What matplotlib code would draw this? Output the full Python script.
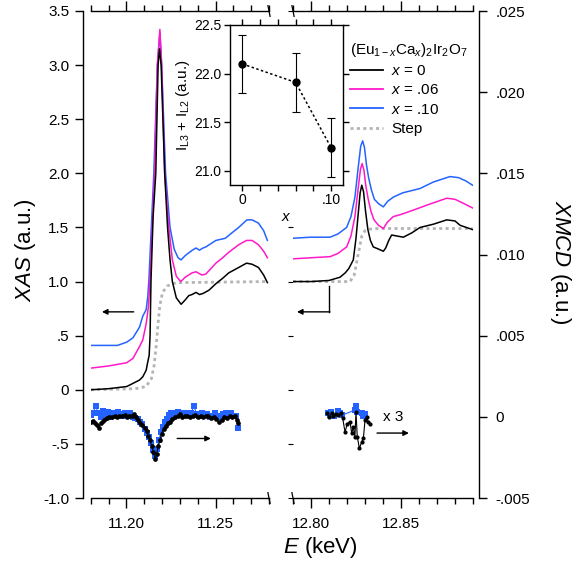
import numpy as np
import matplotlib.pyplot as plt
from matplotlib.ticker import MultipleLocator
from matplotlib.lines import Line2D

plt.rcParams['font.family'] = 'Liberation Sans'
plt.rcParams['mathtext.fontset'] = 'custom'
plt.rcParams['mathtext.rm'] = 'Liberation Sans'
plt.rcParams['mathtext.it'] = 'Liberation Sans:italic'
plt.rcParams['mathtext.bf'] = 'Liberation Sans:bold'
plt.rcParams['axes.linewidth'] = 1.0

# ---- XAS, Ir L3 edge (keV, a.u.) ----
e_l3_x0 = [11.180, 11.190, 11.2002, 11.2074, 11.2092, 11.2111, 11.2118, 11.2128, 11.2133,
           11.2138, 11.2150, 11.2165, 11.2178, 11.2186, 11.2195, 11.2205, 11.2215, 11.2231,
           11.2245, 11.2258, 11.2280, 11.2307, 11.2330, 11.2350, 11.2368, 11.2391, 11.2410,
           11.2430, 11.2463, 11.2502, 11.2540, 11.2574, 11.2630, 11.2674, 11.2705, 11.2741,
           11.2770, 11.2791]
xas_l3_x0 = [0.00, 0.01, 0.03, 0.09, 0.12, 0.18, 0.24, 0.32, 0.50, 1.00, 1.60, 2.00, 3.00,
             3.15, 3.00, 2.50, 2.00, 1.50, 1.20, 1.00, 0.85, 0.79, 0.83, 0.87, 0.88, 0.90,
             0.88, 0.89, 0.92, 0.98, 1.03, 1.08, 1.13, 1.17, 1.16, 1.13, 1.06, 0.99]
e_l3_x06 = [11.180, 11.190, 11.2002, 11.2037, 11.2074, 11.2092, 11.2111, 11.2124, 11.2132,
            11.2158, 11.2174, 11.2188, 11.2198, 11.2215, 11.2238, 11.2258, 11.2280, 11.2305,
            11.2330, 11.2368, 11.2391, 11.2424, 11.2446, 11.2480, 11.2502, 11.2540, 11.2574,
            11.2630, 11.2674, 11.2705, 11.2741, 11.2770, 11.2791]
xas_l3_x06 = [0.20, 0.22, 0.25, 0.29, 0.40, 0.46, 0.61, 0.77, 1.00, 2.00, 3.00, 3.33, 3.00,
              2.00, 1.50, 1.20, 1.05, 1.00, 1.04, 1.08, 1.09, 1.06, 1.07, 1.13, 1.17, 1.22,
              1.27, 1.34, 1.38, 1.38, 1.34, 1.28, 1.22]
e_l3_x10 = [11.180, 11.190, 11.195, 11.2002, 11.2037, 11.2074, 11.2092, 11.2111, 11.2120,
            11.2126, 11.2154, 11.2174, 11.2188, 11.2198, 11.2220, 11.2245, 11.2268, 11.2290,
            11.2307, 11.2330, 11.2370, 11.2391, 11.2410, 11.2430, 11.2446, 11.2502, 11.2555,
            11.2592, 11.2630, 11.2676, 11.2705, 11.2741, 11.2770, 11.2791]
xas_l3_x10 = [0.41, 0.41, 0.41, 0.44, 0.48, 0.58, 0.68, 0.74, 0.86, 1.00, 2.00, 3.00, 3.30,
              3.00, 2.00, 1.50, 1.30, 1.22, 1.20, 1.24, 1.29, 1.31, 1.29, 1.31, 1.32, 1.38,
              1.40, 1.45, 1.50, 1.57, 1.57, 1.54, 1.47, 1.38]
step_l3_e = [11.180, 11.205, 11.211, 11.214, 11.2155, 11.2167, 11.2177, 11.2188,
             11.2203, 11.223, 11.228, 11.279]
step_l3 = [0.0, 0.01, 0.03, 0.10, 0.22, 0.40, 0.60, 0.78, 0.90, 0.96, 0.99, 1.0]

# ---- XAS, Ir L2 edge ----
e_l2_x0 = [12.790, 12.800, 12.810, 12.8161, 12.819, 12.821, 12.8235, 12.8250, 12.8262,
           12.8273, 12.8282, 12.8292, 12.8303, 12.8316, 12.8330, 12.8346, 12.8375, 12.8402,
           12.8415, 12.8432, 12.8448, 12.8480, 12.8513, 12.8560, 12.8606, 12.8680, 12.8754,
           12.8800, 12.8828, 12.8898]
xas_l2_x0 = [1.00, 1.00, 1.01, 1.04, 1.08, 1.12, 1.20, 1.40, 1.62, 1.82, 1.89, 1.83, 1.65,
             1.48, 1.38, 1.32, 1.30, 1.28, 1.31, 1.38, 1.43, 1.42, 1.41, 1.45, 1.50, 1.53,
             1.57, 1.56, 1.52, 1.48]
e_l2_x06 = [12.790, 12.800, 12.8106, 12.815, 12.8198, 12.8222, 12.8244, 12.8262, 12.8275,
            12.8284, 12.8294, 12.8305, 12.8318, 12.8333, 12.8350, 12.8375, 12.8402, 12.8425,
            12.8457, 12.8500, 12.8568, 12.8650, 12.8754, 12.8800, 12.8850, 12.8898]
xas_l2_x06 = [1.21, 1.22, 1.23, 1.26, 1.32, 1.42, 1.60, 1.86, 2.04, 2.09, 2.03, 1.88, 1.76,
              1.65, 1.57, 1.52, 1.49, 1.55, 1.60, 1.62, 1.66, 1.71, 1.77, 1.76, 1.72, 1.68]
e_l2_x10 = [12.790, 12.800, 12.8106, 12.815, 12.8198, 12.8222, 12.8244, 12.8262, 12.8276,
            12.8287, 12.8297, 12.8308, 12.8320, 12.8335, 12.8352, 12.8375, 12.8402, 12.8425,
            12.8457, 12.8510, 12.8606, 12.8680, 12.8772, 12.8820, 12.8860, 12.8898]
xas_l2_x10 = [1.40, 1.41, 1.41, 1.44, 1.50, 1.60, 1.78, 2.05, 2.25, 2.30, 2.24, 2.08, 1.96,
              1.85, 1.76, 1.72, 1.69, 1.74, 1.78, 1.82, 1.86, 1.92, 1.97, 1.96, 1.93, 1.89]
step_l2_e = [12.790, 12.8217, 12.824, 12.8263, 12.8282, 12.830, 12.834, 12.8898]
step_l2 = [1.0, 1.0, 1.06, 1.26, 1.42, 1.47, 1.49, 1.49]

# ---- XMCD, L3 edge ----
xmcd_l3_e_x0 = [11.1800, 11.1813, 11.1824, 11.1837, 11.1846, 11.1856, 11.1868, 11.1880,
                11.1893, 11.1905, 11.1920, 11.1935, 11.1948, 11.1961, 11.1976, 11.1991,
                11.2004, 11.2016, 11.2031, 11.2042, 11.2053, 11.2065, 11.2078, 11.2090,
                11.2102, 11.2113, 11.2124, 11.2133, 11.2142, 11.2152, 11.2161, 11.2170,
                11.2179, 11.2189, 11.2198, 11.2209, 11.2220, 11.2231, 11.2244, 11.2257,
                11.2272, 11.2287, 11.2300, 11.2312, 11.2327, 11.2342, 11.2357, 11.2372,
                11.2386, 11.2401, 11.2416, 11.2431, 11.2446, 11.2460, 11.2475, 11.2490,
                11.2505, 11.2520, 11.2534, 11.2549, 11.2564, 11.2579, 11.2594, 11.2608,
                11.2620, 11.2627]
xmcd_l3_x0 = [-0.00031, -0.00025, -0.00037, -0.00051, -0.00066, -0.00041, -0.00025, -0.00016,
              -0.00010, -0.00004, 0.00000, 0.00004, 0.00000, 0.00008, 0.00004, 0.00012,
              0.00000, 0.00008, 0.00004, 0.00016, -0.00004, -0.00021, -0.00037, -0.00051,
              -0.00066, -0.00086, -0.00119, -0.00144, -0.00181, -0.00216, -0.00262, -0.00226,
              -0.00181, -0.00140, -0.00103, -0.00072, -0.00057, -0.00037, -0.00031, -0.00016,
              -0.00004, 0.00004, 0.00016, 0.00000, 0.00004, 0.00008, -0.00004, 0.00004,
              0.00010, 0.00000, 0.00008, -0.00004, 0.00004, 0.00008, -0.00008, 0.00000,
              -0.00016, -0.00033, -0.00021, 0.00000, -0.00008, 0.00008, 0.00000, 0.00004,
              -0.00021, -0.00041]
xmcd_l3_e_x10 = [11.1800, 11.1813, 11.1828, 11.1843, 11.1856, 11.1868, 11.1883, 11.1898,
                 11.1911, 11.1924, 11.1939, 11.1954, 11.1967, 11.1979, 11.1994, 11.2009,
                 11.2022, 11.2035, 11.2050, 11.2065, 11.2078, 11.2090, 11.2105, 11.2116,
                 11.2127, 11.2139, 11.2150, 11.2161, 11.2172, 11.2183, 11.2194, 11.2205,
                 11.2216, 11.2227, 11.2238, 11.2250, 11.2263, 11.2275, 11.2290, 11.2305,
                 11.2320, 11.2335, 11.2349, 11.2364, 11.2379, 11.2394, 11.2409, 11.2423,
                 11.2438, 11.2453, 11.2468, 11.2483, 11.2497, 11.2512, 11.2527, 11.2542,
                 11.2557, 11.2571, 11.2586, 11.2601, 11.2614, 11.2627]
xmcd_l3_x10 = [0.00010, 0.00025, 0.00066, 0.00021, 0.00000, 0.00037, 0.00016, 0.00029,
               0.00000, 0.00021, 0.00010, 0.00029, 0.00016, 0.00008, 0.00025, 0.00016,
               0.00021, -0.00004, -0.00010, -0.00016, -0.00031, -0.00045, -0.00072, -0.00098,
               -0.00123, -0.00164, -0.00205, -0.00242, -0.00201, -0.00144, -0.00092, -0.00062,
               -0.00031, -0.00016, 0.00010, 0.00025, 0.00000, 0.00021, 0.00031, 0.00016,
               0.00025, 0.00010, 0.00021, 0.00025, 0.00066, 0.00016, 0.00004, 0.00021,
               0.00010, 0.00016, 0.00000, 0.00008, 0.00021, 0.00004, -0.00004, 0.00016,
               0.00025, 0.00012, 0.00021, 0.00008, 0.00004, -0.00066]

# ---- XMCD, L2 edge (shown multiplied by 3) ----
l2_scale = 3
xmcd_l2_e_x0 = [12.8087, 12.8102, 12.8115, 12.8124, 12.8139, 12.8152, 12.8165, 12.8176,
                12.8189, 12.8202, 12.8217, 12.8226, 12.8235, 12.8244, 12.8250, 12.8257,
                12.8269, 12.8282, 12.8291, 12.8300, 12.8309, 12.8318, 12.8328]
xmcd_l2_x0 = [0.00007, 0.00000, 0.00008, 0.00001, 0.00006, 0.00003, 0.00007, -0.00003,
              -0.00031, -0.00014, -0.00010, -0.00034, -0.00021, -0.00041, 0.00010, -0.00041,
              -0.00065, -0.00051, -0.00044, -0.00007, 0.00000, -0.00010, -0.00014]
xmcd_l2_e_x10 = [12.8093, 12.8105, 12.8112, 12.8128, 12.8148, 12.8159, 12.8170, 12.8244,
                 12.8250, 12.8257, 12.8282, 12.8291, 12.8300]
xmcd_l2_x10 = [0.00008, 0.00003, 0.00010, 0.00001, 0.00012, 0.00008, 0.00003, 0.00014,
               0.00022, 0.00010, 0.00008, 0.00001, 0.00005]

# ---- inset: L3 + L2 branching sum vs Ca content ----
ca_x = [0.0, 0.06, 0.10]
sum_rule = [22.10, 21.91, 21.24]
sum_err = [0.30, 0.30, 0.30]

left_ticks = ['-1.0', '-.5', '0', '.5', '1.0', '1.5', '2.0', '2.5', '3.0', '3.5']
right_ticks = ['-.005', '0', '.005', '.010', '.015', '.020', '.025']

c_x0, c_x06, c_x10, c_step = '#000000', '#ff19c8', '#2463ff', '#b4b4b4'

W, H = 580, 567


def box(x0, y0, x1, y1):
    return [x0 / W, 1 - y1 / H, (x1 - x0) / W, (y1 - y0) / H]


fig = plt.figure(figsize=(W / 100, H / 100), dpi=100)
ax1 = fig.add_axes(box(90.7, 11, 269, 498))
ax2 = fig.add_axes(box(293, 11, 473, 498))
ax1.set_xlim(11.18, 11.28)
ax2.set_xlim(12.79, 12.89)

for ax, majors in ((ax1, [11.20, 11.25]), (ax2, [12.80, 12.85])):
    ax.set_ylim(-1, 3.5)
    ax.set_xticks(majors)
    ax.set_xticklabels(['%.2f' % m for m in majors])
    ax.xaxis.set_minor_locator(MultipleLocator(0.01))
    ax.tick_params(axis='x', which='both', direction='out', top=True, labelsize=11, pad=7)
    ax.tick_params(axis='x', which='major', length=7, width=1)
    ax.tick_params(axis='x', which='minor', length=4, width=1)
    ax.spines['right'].set_visible(False)
    ax.patch.set_visible(False)

ax1.set_yticks(np.arange(-1, 3.51, 0.5))
ax1.set_yticklabels(left_ticks)
ax1.spines['left'].set_position(('outward', 5.5))
ax1.tick_params(axis='y', direction='out', length=6, width=1, labelsize=11, pad=4)
ax2.spines['left'].set_visible(False)
ax2.tick_params(axis='y', left=False, labelleft=False)

# axis break marks
for ax, xb in ((ax1, 1.0), (ax2, 0.0)):
    for yb in (0.0, 1.0):
        ax.plot([xb - 0.006, xb + 0.006], [yb + 0.011, yb - 0.011], transform=ax.transAxes,
                color='k', lw=0.9, clip_on=False)

# XMCD scales
ax1r = ax1.twinx()
ax1r.set_ylim(-0.005, 0.025)
ax1r.axis('off')
ax2r = ax2.twinx()
ax2r.set_ylim(-0.005, 0.025)
for s in ('top', 'bottom', 'left'):
    ax2r.spines[s].set_visible(False)
ax2r.spines['right'].set_position(('outward', 4.3))
ax2r.set_yticks(np.arange(-0.005, 0.0251, 0.005))
ax2r.set_yticklabels(right_ticks)
ax2r.tick_params(axis='y', direction='out', length=6, width=1, labelsize=11, pad=6)

# XAS curves
ax1.plot(step_l3_e, step_l3, color=c_step, lw=2, ls=(0, (1.1, 1.2)))
ax2.plot(step_l2_e, step_l2, color=c_step, lw=2, ls=(0, (1.1, 1.2)))
ax1.plot(e_l3_x10, xas_l3_x10, color=c_x10, lw=1.1)
ax1.plot(e_l3_x06, xas_l3_x06, color=c_x06, lw=1.1)
ax1.plot(e_l3_x0, xas_l3_x0, color=c_x0, lw=1.1)
ax2.plot(e_l2_x10, xas_l2_x10, color=c_x10, lw=1.1)
ax2.plot(e_l2_x06, xas_l2_x06, color=c_x06, lw=1.1)
ax2.plot(e_l2_x0, xas_l2_x0, color=c_x0, lw=1.1)

# XMCD
ax1r.plot(xmcd_l3_e_x10, xmcd_l3_x10, color=c_x10, lw=0.8, marker='s', ms=3.8, mew=0)
ax1r.plot(xmcd_l3_e_x0, xmcd_l3_x0, color=c_x0, lw=0.8, marker='o', ms=3.4, mew=0)
ax2r.plot(xmcd_l2_e_x10, np.array(xmcd_l2_x10) * l2_scale, color=c_x10, lw=0.8,
          marker='s', ms=3.8, mew=0)
ax2r.plot(xmcd_l2_e_x0, np.array(xmcd_l2_x0) * l2_scale, color=c_x0, lw=0.8,
          marker='o', ms=3.0, mew=0)

# arrows pointing to the relevant axis
arr = dict(arrowstyle='-|>', color='k', lw=1, mutation_scale=8, shrinkA=0, shrinkB=0)
ax1.annotate('', xy=(11.1863, 0.72), xytext=(11.2041, 0.72), arrowprops=arr)
ax1.annotate('', xy=(11.2474, -0.45), xytext=(11.2285, -0.45), arrowprops=arr)
ax2.plot([12.810, 12.810], [0.96, 0.72], color='k', lw=1)
ax2.annotate('', xy=(12.7922, 0.72), xytext=(12.8105, 0.72), arrowprops=arr)
ax2.annotate('', xy=(12.8544, -0.40), xytext=(12.8367, -0.40), arrowprops=arr)
ax2.text(12.8456, -0.25, 'x 3', fontsize=11, ha='center', va='center')

fig.text(25 / W, 1 - 250 / H, r'$\mathit{XAS}$ (a.u.)', rotation=90, fontsize=16,
         ha='center', va='center')
fig.text(560 / W, 1 - 262 / H, r'$\mathit{XMCD}$ (a.u.)', rotation=270, fontsize=16,
         ha='center', va='center')
fig.text(320 / W, 1 - 548 / H, r'$\mathit{E}$ (keV)', fontsize=16, ha='center', va='center')

# legend
handles = [Line2D([], [], color=c_x0, lw=1.3), Line2D([], [], color=c_x06, lw=1.3),
           Line2D([], [], color=c_x10, lw=1.3),
           Line2D([], [], color=c_step, lw=2, ls=(0, (1.1, 1.2)))]
labels = [r'$\mathit{x}$ = 0', r'$\mathit{x}$ = .06', r'$\mathit{x}$ = .10', 'Step']
leg = fig.legend(handles, labels, loc='upper left', bbox_to_anchor=(342 / W, 1 - 33 / H),
                 frameon=False, fontsize=11, title=r'(Eu$_{1-\mathit{x}}$Ca$_\mathit{x}$)$_2$Ir$_2$O$_7$',
                 title_fontsize=11, alignment='left', borderpad=0, handlelength=2.2,
                 handletextpad=0.5, labelspacing=0.35)

# inset
axin = fig.add_axes(box(230, 25, 343, 185))
axin.set_facecolor('white')
axin.errorbar(ca_x, sum_rule, yerr=sum_err, color='k', ls=(0, (1.6, 1.6)), lw=1.1,
              marker='o', ms=5, capsize=3, elinewidth=0.8, capthick=0.8)
axin.set_xlim(-0.014, 0.1135)
axin.set_ylim(20.855, 22.5)
axin.set_yticks([21.0, 21.5, 22.0, 22.5])
axin.set_xticks([0, 0.02, 0.04, 0.06, 0.08, 0.10])
axin.set_xticklabels(['0', '', '', '', '', '.10'])
axin.tick_params(direction='out', length=4, width=1, labelsize=10, pad=2,
                 top=True, right=True)
axin.set_xlabel(r'$\mathit{x}$', fontsize=11, labelpad=2)
axin.set_ylabel(r'I$_{\mathrm{L3}}$ + I$_{\mathrm{L2}}$ (a.u.)', fontsize=11, labelpad=2)

fig.savefig('out.png', dpi=100)
